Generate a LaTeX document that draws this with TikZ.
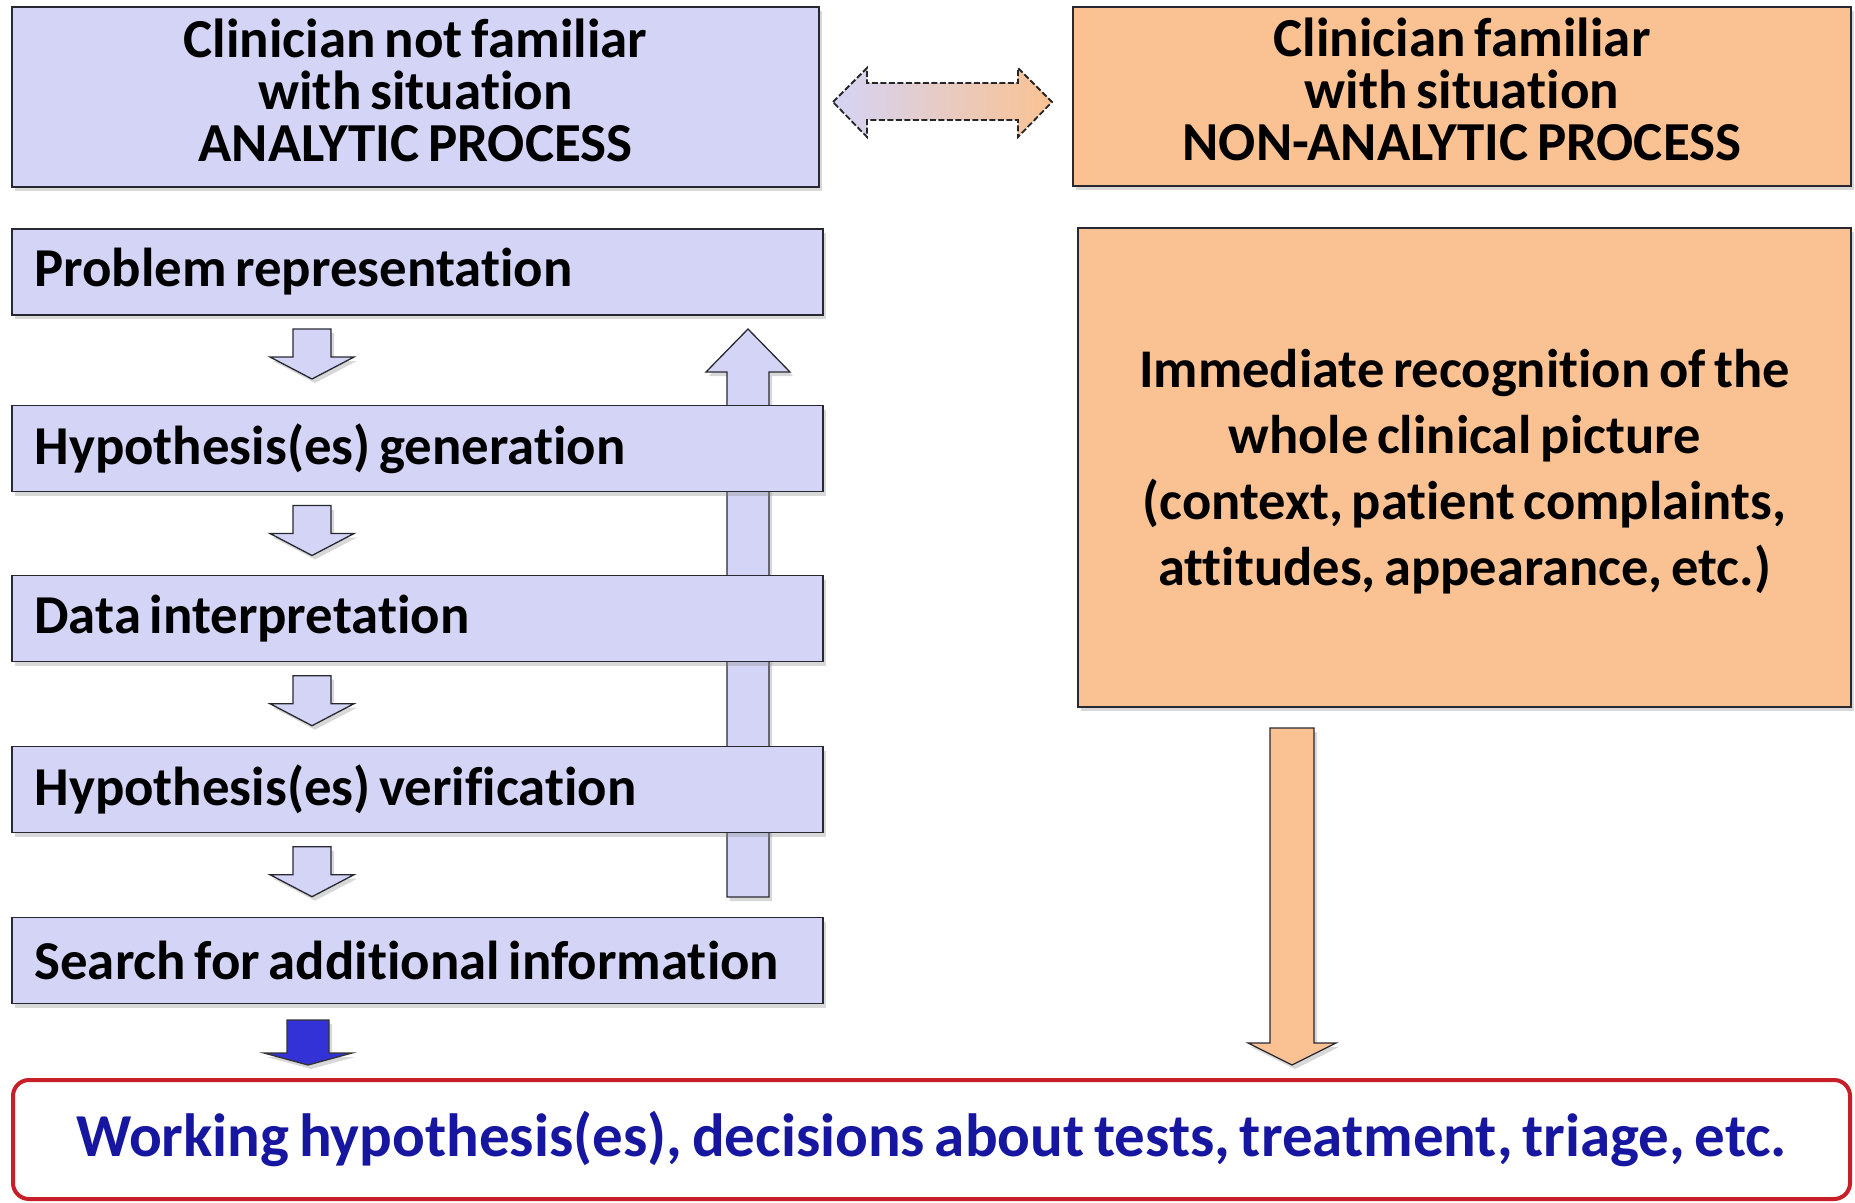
\documentclass[tikz,border=0pt]{standalone}
\usepackage{fontspec}
\setmainfont{Carlito}[WordSpace=0.7,Ligatures=NoCommon]
\usetikzlibrary{shadows}
\definecolor{lav}{RGB}{212,212,246}
\definecolor{org}{RGB}{250,194,146}
\definecolor{txtblue}{RGB}{22,22,160}
\definecolor{redb}{RGB}{200,30,40}
\definecolor{arrblue}{RGB}{50,50,215}
\definecolor{edge}{RGB}{40,40,50}
\newcommand\blkdown[7]{%
  \draw[#7] (#1-#5,#2) -- (#1+#5,#2) -- (#1+#5,#3) -- (#1+#6,#3) -- (#1,#4) -- (#1-#6,#3) -- (#1-#5,#3) -- cycle;}
\begin{document}
\begin{tikzpicture}[x=1pt,y=-1pt,
  shad/.style={drop shadow={shadow xshift=3pt,shadow yshift=-4pt,opacity=0.3}},
  box/.style={draw=edge,line width=1.5pt,shad,inner sep=0pt,font=\bfseries},
  toptext/.style={align=center,inner sep=0pt,font=\bfseries\fontsize{55}{52}\selectfont},
  lbox/.style={box,fill=lav,minimum width=811pt,minimum height=86pt},
  ltext/.style={anchor=west,inner sep=0pt,font=\bfseries\fontsize{54.8}{60}\selectfont},
  smarr/.style={draw=edge,line width=1.3pt,fill=lav,shad},
  orarr/.style={draw=edge,line width=1.3pt,fill=org,shad},
  bluarr/.style={draw=black!80,line width=1.3pt,fill=arrblue,shad}]
\useasboundingbox (0,0) rectangle (1855,1202);
\fill[white] (0,0) rectangle (1855,1202);
% top boxes
\node[box,fill=lav,minimum width=807pt,minimum height=180pt] (tl) at (415.5,97) {};
\node[toptext] (tlt) at ([yshift=7pt]tl.center)
  {Clinician not familiar\\with situation\\ANALYTIC PROCESS};
\node[box,fill=org,minimum width=778pt,minimum height=179pt] (tr) at (1462,96.5) {};
\node[toptext] (trt) at ([yshift=7pt]tr.center)
  {Clinician familiar\\with situation\\NON-ANALYTIC PROCESS};
% double arrow
\draw[left color=lav,right color=org,draw=black!85,dash pattern=on 6pt off 2.5pt,line width=1.8pt]
  (833,102) -- (867,68) -- (867,83) -- (1018,83) -- (1018,68) -- (1052,102)
  -- (1018,137) -- (1018,120) -- (867,120) -- (867,137) -- cycle;
% up arrow (behind boxes)
\blkdown{748}{897}{372}{329}{21}{42}{smarr}
% left boxes
\node[lbox] (pr) at (417.5,272) {};
\node[lbox] (hg) at (417.5,448.5) {};
\node[lbox] (di) at (417.5,618.7) {};
\node[lbox] (hv) at (417.5,789.7) {};
\node[lbox] (sa) at (417.5,960.6) {};
\node[ltext] (prt) at ([xshift=23pt]pr.west) {Problem representation};
\node[ltext] (hgt) at ([xshift=23pt]hg.west) {Hypothesis(es) generation};
\node[ltext] (dit) at ([xshift=23pt]di.west) {Data interpretation};
\node[ltext] (hvt) at ([xshift=23pt]hv.west) {Hypothesis(es) verification};
\node[ltext] (sat) at ([xshift=23pt]sa.west) {Search for additional information};
% small down arrows
\foreach \b in {315,491.5,661.7,832.7}{
  \blkdown{312}{\b+14}{\b+42}{\b+64}{19}{42}{smarr}
}
% right box
\node[box,fill=org,minimum width=773pt,minimum height=479pt] (ir) at (1464.5,467.5) {};
\node[align=center,inner sep=0pt,font=\bfseries\fontsize{54.5}{66}\selectfont] (irt)
  at ([yshift=-4pt]ir.center)
  {Immediate recognition of the\\whole clinical picture\\(context, patient complaints,\\attitudes, appearance, etc.)};
% orange arrow
\blkdown{1292}{728}{1043}{1065}{22}{44}{orarr}
% blue arrow
\blkdown{308}{1020}{1053}{1065}{21}{44}{bluarr}
% bottom box
\node[draw=redb,line width=4pt,rounded corners=16pt,fill=white,minimum width=1837pt,minimum height=119pt,
  inner sep=0pt,text=txtblue,font=\bfseries\fontsize{61}{64}\selectfont] (wh) at (931.5,1139.5)
  {Working hypothesis(es), decisions about tests, treatment, triage, etc.};
\end{tikzpicture}
\end{document}
